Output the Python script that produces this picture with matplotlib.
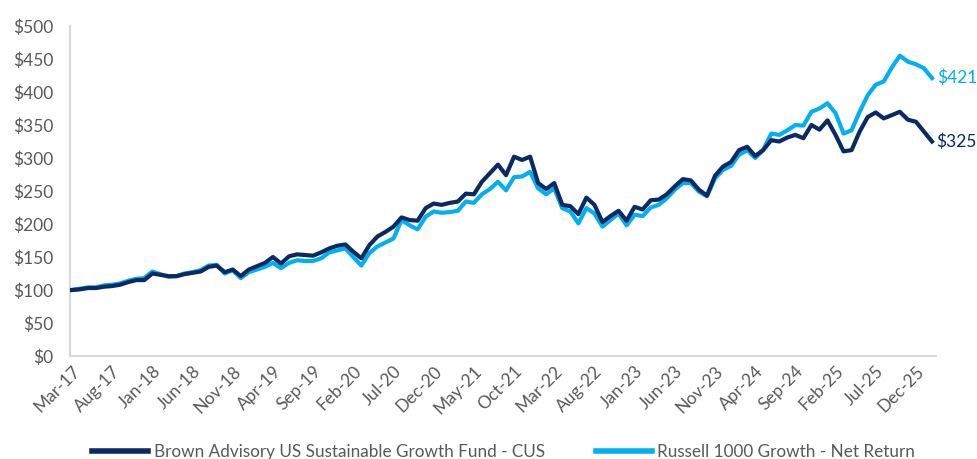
import matplotlib
matplotlib.use("Agg")
import matplotlib.pyplot as plt
import pandas as pd

months = pd.date_range("2017-03-01", periods=108, freq="MS").strftime("%b-%y").tolist()

fund = [
    100, 101, 103, 103, 105, 106, 108, 112, 115, 115,
    125, 123, 121, 121, 124, 126, 128, 135, 137, 127,
    131, 121, 131, 136, 141, 150, 140, 151, 154, 153,
    152, 157, 163, 167, 169, 158, 148, 168, 181, 188,
    196, 210, 206, 205, 224, 231, 229, 232, 234, 246,
    245, 264, 277, 290, 274, 302, 297, 302, 262, 253,
    262, 229, 227, 215, 240, 229, 203, 212, 220, 205,
    226, 222, 236, 237, 245, 257, 268, 266, 252, 243,
    273, 287, 294, 312, 317, 303, 312, 327, 325, 331,
    335, 330, 350, 343, 357, 335, 310, 312, 340, 362,
    369, 360, 365, 370, 358, 355, 340, 325,
]

bench = [
    100, 102, 104, 104, 107, 108, 110, 114, 117, 118,
    128, 124, 120, 121, 125, 127, 130, 137, 138, 125,
    130, 118, 127, 131, 135, 141, 133, 141, 145, 144,
    144, 148, 157, 160, 163, 150, 137, 156, 166, 172,
    178, 206, 198, 192, 211, 219, 217, 218, 220, 234,
    232, 245, 253, 264, 251, 271, 272, 279, 254, 245,
    254, 224, 219, 201, 224, 216, 196, 206, 216, 198,
    214, 212, 225, 229, 239, 252, 262, 262, 249, 242,
    269, 282, 288, 305, 312, 300, 312, 337, 335, 342,
    350, 349, 370, 375, 383, 368, 337, 342, 370, 395,
    411, 416, 437, 455, 446, 442, 436, 421,
]

fund_name = "Brown Advisory US Sustainable Growth Fund - CUS"
bench_name = "Russell 1000 Growth - Net Return"
dark = "#0B2A63"
light = "#00B0F0"
grey = "#595959"

plt.rcParams["font.family"] = ["Lato", "DejaVu Sans"]

fig = plt.figure(figsize=(9.78, 4.59), dpi=100)
ax = fig.add_axes([70 / 978, 1 - 356 / 459, 866 / 978, 330 / 459])

x = list(range(len(months)))
ax.plot(x, fund, color=dark, lw=3, label=fund_name, solid_joinstyle="round", zorder=3)
ax.plot(x, bench, color=light, lw=3, label=bench_name, solid_joinstyle="round", zorder=2)

ax.set_ylim(0, 500)
ax.set_xlim(-0.25, 107.5)
ax.set_yticks(range(0, 501, 50))
ax.set_yticklabels([f"${v}" for v in range(0, 501, 50)])
ax.set_xticks(x[::5])
ax.set_xticklabels(months[::5], rotation=45, ha="right", rotation_mode="anchor")
ax.tick_params(length=0, labelsize=12.5, colors=grey)
ax.tick_params(axis="x", pad=5)
ax.tick_params(axis="y", pad=12)

for side in ["top", "right"]:
    ax.spines[side].set_visible(False)
for side in ["left", "bottom"]:
    ax.spines[side].set_color("#D9D9D9")
    ax.spines[side].set_linewidth(1.5)

# end labels
ax.annotate(f"${bench[-1]}", (x[-1], bench[-1]), xytext=(4, 0), textcoords="offset points",
            color=light, fontsize=12.5, va="center", annotation_clip=False)
ax.annotate(f"${fund[-1]}", (x[-1], fund[-1]), xytext=(3, 0), textcoords="offset points",
            color=dark, fontsize=12.5, va="center", annotation_clip=False)

fig.legend(loc="lower center", bbox_to_anchor=(0.515, -0.035), ncol=2, frameon=False,
           fontsize=12.3, handlelength=3.3, columnspacing=3.0, handletextpad=0.3,
           labelcolor=grey)
for line in fig.legends[0].get_lines():
    line.set_linewidth(4)

fig.savefig("out.png", dpi=100)
